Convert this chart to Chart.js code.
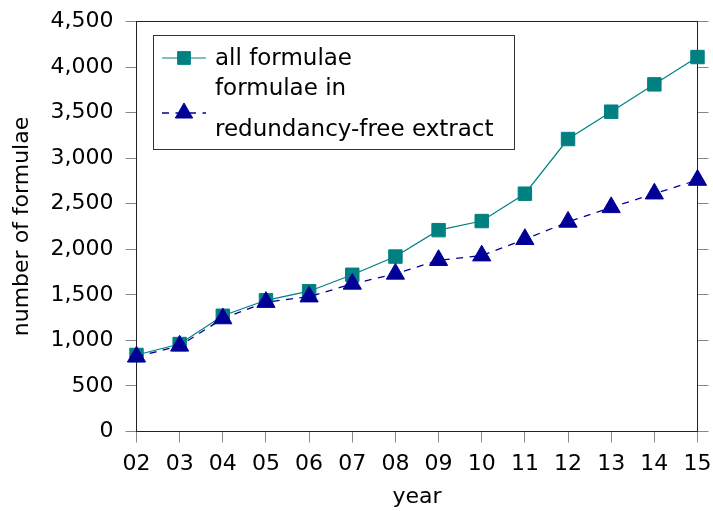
<!DOCTYPE html>
<html>
<head>
<meta charset="utf-8">
<script src="https://cdn.jsdelivr.net/npm/chart.js@4/dist/chart.umd.min.js"></script>
<style>
  html, body { margin: 0; padding: 0; background: #fff; }
</style>
</head>
<body>
<canvas id="chart" width="713" height="511"></canvas>
<script>
var years = ["02", "03", "04", "05", "06", "07", "08", "09", "10", "11", "12", "13", "14", "15"];
var allFormulae = [840, 960, 1270, 1440, 1540, 1720, 1920, 2210, 2310, 2610, 3210, 3510, 3810, 4110];
var redundancyFree = [820, 940, 1240, 1420, 1480, 1620, 1730, 1880, 1930, 2110, 2300, 2460, 2610, 2760];
var yTickValues = [0, 500, 1000, 1500, 2000, 2500, 3000, 3500, 4000, 4500];
var legendLines = [["all formulae"], ["formulae in", "redundancy-free extract"]];

var TEAL = "#008080";
var NAVY = "#000096";

Chart.defaults.font.family = "'DejaVu Sans', sans-serif";
Chart.defaults.font.size = 22;
Chart.defaults.color = "#000";

function fixedTicks(scale) {
  scale.ticks = yTickValues.map(function (v) { return { value: v }; });
}

// keep the plot box where it is, labels may hang over the edges
function noPadding(scale) {
  scale.paddingLeft = 0;
  scale.paddingRight = 0;
  scale.paddingTop = 0;
  scale.paddingBottom = 0;
}

// pgfplots-like boxed legend with a two-line entry
var boxLegend = {
  id: "boxLegend",
  afterDatasetsDraw: function (chart) {
    var ctx = chart.ctx;
    ctx.save();
    ctx.fillStyle = "#fff";
    ctx.strokeStyle = "#333";
    ctx.lineWidth = 1;
    ctx.fillRect(153.5, 35.5, 361, 114);
    ctx.strokeRect(153.5, 35.5, 361, 114);

    var symbolY = [58, 113];
    var textY = [[59], [89.5, 130]];
    chart.data.datasets.forEach(function (ds, i) {
      var y = symbolY[i];
      ctx.save();
      ctx.strokeStyle = ds.borderColor;
      ctx.lineWidth = ds.borderWidth;
      ctx.setLineDash(ds.borderDash || []);
      ctx.beginPath();
      ctx.moveTo(162, y);
      ctx.lineTo(206, y);
      ctx.stroke();
      ctx.restore();
      ctx.fillStyle = ds.pointBackgroundColor;
      ctx.strokeStyle = ds.pointBorderColor;
      ctx.lineWidth = 1;
      Chart.helpers.drawPoint(ctx, {
        pointStyle: ds.pointStyle,
        radius: ds.legendRadius,
        rotation: 0,
        borderWidth: 1
      }, 184, y);

      ctx.fillStyle = "#000";
      ctx.font = "23px 'DejaVu Sans', sans-serif";
      ctx.textAlign = "left";
      ctx.textBaseline = "middle";
      legendLines[i].forEach(function (line, j) {
        ctx.fillText(line, 215, textY[i][j]);
      });
    });
    ctx.restore();
  }
};

new Chart(document.getElementById("chart"), {
  type: "line",
  data: {
    labels: years,
    datasets: [
      {
        label: "all formulae",
        data: allFormulae,
        borderColor: TEAL,
        backgroundColor: TEAL,
        borderWidth: 1.2,
        pointStyle: "rect",
        pointRadius: 9.5,
        legendRadius: 9,
        pointBackgroundColor: TEAL,
        pointBorderColor: TEAL,
        pointBorderWidth: 1,
        tension: 0,
        order: 2
      },
      {
        label: "formulae in redundancy-free extract",
        data: redundancyFree,
        borderColor: NAVY,
        backgroundColor: NAVY,
        borderWidth: 1.3,
        borderDash: [7, 6.5],
        pointStyle: "triangle",
        pointRadius: 10.5,
        legendRadius: 10,
        pointBackgroundColor: NAVY,
        pointBorderColor: NAVY,
        pointBorderWidth: 1,
        tension: 0,
        order: 1
      }
    ]
  },
  options: {
    responsive: false,
    animation: false,
    devicePixelRatio: 1,
    layout: { padding: 0 },
    plugins: {
      legend: { display: false },
      tooltip: { enabled: false }
    },
    scales: {
      x: {
        position: "bottom",
        offset: false,
        grid: { drawOnChartArea: false, tickLength: 11, color: "#888" },
        border: { color: "#222", width: 1 },
        ticks: { autoSkip: false, maxRotation: 0, padding: 9 },
        title: { display: true, text: "year", padding: { top: 0, bottom: 1 } },
        afterFit: function (scale) { noPadding(scale); scale.height = 79.5; }
      },
      xTop: {
        type: "category",
        labels: years,
        position: "top",
        offset: false,
        grid: { display: false },
        border: { display: true, color: "#222", width: 1 },
        ticks: { display: false },
        afterFit: function (scale) { noPadding(scale); scale.height = 21.5; }
      },
      y: {
        position: "left",
        min: 0,
        max: 4500,
        afterBuildTicks: fixedTicks,
        grid: { drawOnChartArea: false, tickLength: 11, color: "#888" },
        border: { color: "#222", width: 1 },
        ticks: {
          padding: 12,
          callback: function (v) { return Number(v).toLocaleString("en-US"); }
        },
        title: { display: true, text: "number of formulae", padding: { top: 9, bottom: 0 } },
        afterFit: function (scale) { noPadding(scale); scale.width = 136.5; }
      },
      yRight: {
        position: "right",
        min: 0,
        max: 4500,
        afterBuildTicks: fixedTicks,
        grid: { drawOnChartArea: false, tickLength: 11, color: "#888" },
        border: { color: "#222", width: 1 },
        ticks: { display: false },
        afterFit: function (scale) { noPadding(scale); scale.width = 15.5; }
      }
    }
  },
  plugins: [boxLegend]
});
</script>
</body>
</html>
